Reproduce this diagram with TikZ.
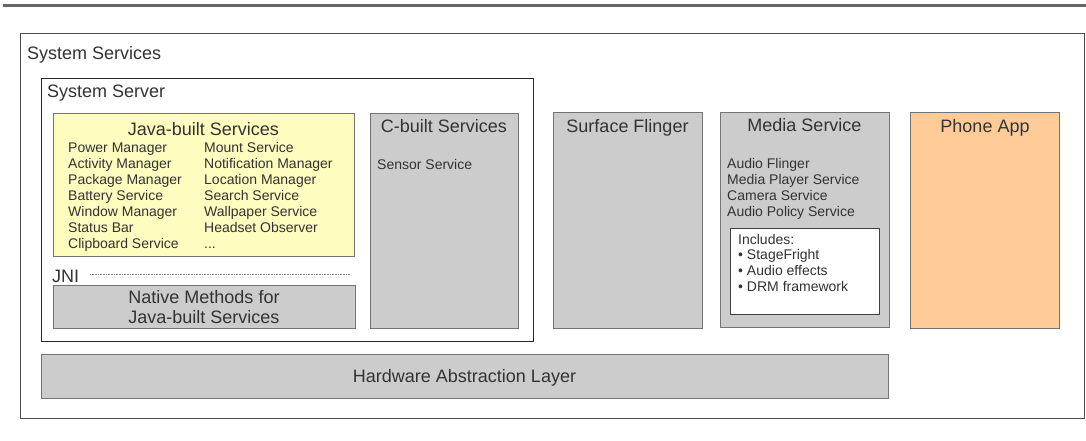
\documentclass[tikz,border=0pt]{standalone}
\usepackage{fontspec}
\setmainfont{Liberation Sans}
\begin{document}
\begin{tikzpicture}[x=1pt,y=-1pt,
  txt/.style={text=black!80, inner sep=0pt, font=\fontsize{14}{16}\selectfont},
  ttl/.style={text=black!80, inner sep=0pt, font=\fontsize{18}{20}\selectfont},
  frame/.style={draw=black!70, line width=0.9pt, fill=white, inner sep=0pt, anchor=north west},
  graybox/.style={draw=black!55, line width=0.9pt, fill=black!20, inner sep=0pt, anchor=north west},
  javabox/.style={draw=black!55, line width=0.9pt, fill=yellow!25, inner sep=0pt, anchor=north west},
  phonebox/.style={draw=black!55, line width=0.9pt, fill={rgb,255:red,255;green,204;blue,153}, inner sep=0pt, anchor=north west},
  whitebox/.style={draw=black!75, line width=0.9pt, fill=white, inner sep=0pt, anchor=north west}
]
\useasboundingbox (0,0) rectangle (1086,440);
\fill[black!60] (3,4) rectangle (1086,7);

% outer frame
\node[frame, minimum width=1064pt, minimum height=385pt] (sys) at (20,33) {};
\node[ttl, anchor=base west] (systitle) at (27,59.5) {System Services};

% system server
\node[frame, draw=black!85, minimum width=492pt, minimum height=263pt] (srv) at (41,78) {};
\node[ttl, anchor=base west] (srvtitle) at (47,97.5) {System Server};

% java-built services
\node[javabox, minimum width=301pt, minimum height=143pt] (java) at (53,113) {};
\node[ttl, anchor=base] (javatitle) at (203.5,135.5) {Java-built Services};
\foreach \a/\b [count=\i from 0] in {Power Manager/Mount Service,Activity Manager/Notification Manager,Package Manager/Location Manager,Battery Service/Search Service,Window Manager/Wallpaper Service,Status Bar/Headset Observer}{
  \node[txt, anchor=base west] (ja\i) at (68,152.5+16*\i) {\a};
  \node[txt, anchor=base west] (jb\i) at (204,152.5+16*\i) {\b};
}
\node[txt, anchor=base west] (ja6) at (68,248.5) {Clipboard Service};
\node[txt, anchor=base west] (jb6) at (204,248.5) {...};

% JNI
\node[ttl, anchor=base west] (jni) at (52,282) {JNI};
\coordinate (jnia) at (90,274);
\coordinate (jnib) at (350,274);
\draw[black!50, densely dotted, line width=0.6pt] (jnia) -- (jnib);

% native methods
\node[graybox, minimum width=302pt, minimum height=43pt] (native) at (53,285) {};
\node[ttl, anchor=base] (nat1) at (204,303.5) {Native Methods for};
\node[ttl, anchor=base] (nat2) at (204,323.5) {Java-built Services};

% C-built
\node[graybox, minimum width=148pt, minimum height=215pt] (cbuilt) at (370,113) {};
\node[ttl, anchor=base] (cbtitle) at (444,132) {C-built Services};
\node[txt, anchor=base west] (sensor) at (377,169) {Sensor Service};

% Surface Flinger
\node[graybox, minimum width=149pt, minimum height=216pt] (sf) at (553,112) {};
\node[ttl, anchor=base] (sftitle) at (627.5,132) {Surface Flinger};

% Media Service
\node[graybox, minimum width=169pt, minimum height=215pt] (media) at (720,112) {};
\node[ttl, anchor=base] (mediatitle) at (804.5,131) {Media Service};
\foreach \t [count=\i from 0] in {Audio Flinger,Media Player Service,Camera Service,Audio Policy Service}{
  \node[txt, anchor=base west] (mi\i) at (727,168+16*\i) {\t};
}
\node[whitebox, minimum width=149pt, minimum height=86pt] (incl) at (730,228) {};
\foreach \t [count=\i from 0] in {Includes:,• StageFright,• Audio effects,• DRM framework}{
  \node[txt, anchor=base west] (in\i) at (738,244+15.8*\i) {\t};
}

% Phone App
\node[phonebox, minimum width=149pt, minimum height=216pt] (phone) at (910,112) {};
\node[ttl, anchor=base] (phonetitle) at (985,132) {Phone App};

% HAL
\node[graybox, minimum width=847pt, minimum height=44pt] (hal) at (41,354) {};
\node[ttl, anchor=base] (haltitle) at (464.5,382.5) {Hardware Abstraction Layer};
\end{tikzpicture}
\end{document}
